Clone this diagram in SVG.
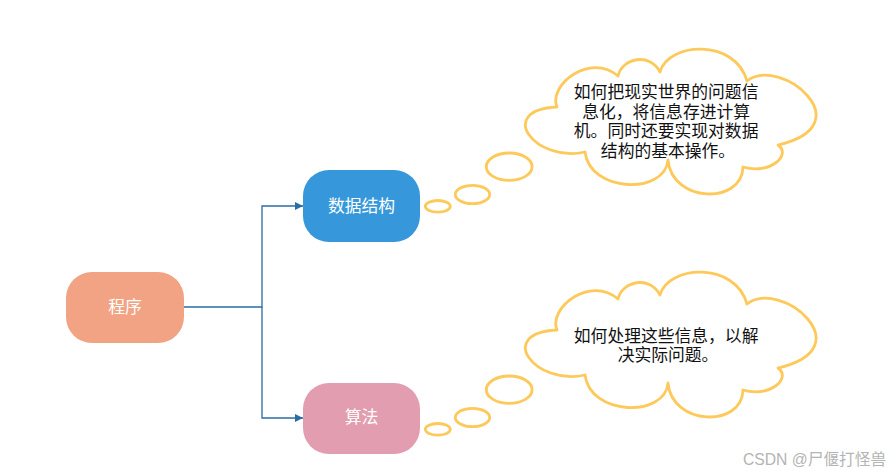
<svg xmlns="http://www.w3.org/2000/svg" width="894" height="471" viewBox="0 0 894 471">
  <style>
    .node-text { font-family: "Noto Sans CJK SC", "Liberation Sans", sans-serif; font-size: 16.8px; fill: #ffffff; text-anchor: middle; }
    .cloud-text { font-family: "Noto Sans CJK SC", "Liberation Sans", sans-serif; font-size: 16.8px; fill: #111111; text-anchor: middle; }
    .cloud { fill: #ffffff; stroke: #fdc95a; stroke-width: 2.8; stroke-linejoin: round; }
    .bubble { fill: #ffffff; stroke: #fdc95a; stroke-width: 2.8; }
    .conn { fill: none; stroke: #2a6ca4; stroke-width: 1.3; }
    .wm { font-family: "Liberation Sans", "Noto Sans CJK SC", sans-serif; font-size: 15.7px; fill: #b4b4b4; }
  </style>
  <defs>
    <marker id="arr" markerWidth="8" markerHeight="8" refX="8" refY="4" orient="auto" markerUnits="userSpaceOnUse">
      <path d="M0,0 L8,4 L0,8 Z" fill="#2a6ca4"/>
    </marker>
    <path id="cloudShape" d="M557,107 C548,85 590,52 618,76 C622,58 650,52 660,72 C668,42 735,38 747,81 C780,55 865,125 778,145 C792,155 770,175 743,167 C742,205 672,203 668,160 C665,195 590,193 585,152 C535,163 495,110 557,107 Z"/>
  </defs>

  <rect width="894" height="471" fill="#ffffff"/>

  <g id="connectors">
    <path class="conn" d="M184,307 H262 V206 H303" marker-end="url(#arr)"/>
    <path class="conn" d="M262,307 V418 H303" marker-end="url(#arr)"/>
  </g>

  <g id="node-program">
    <rect x="66" y="272" width="118" height="71" rx="26" fill="#f1a384"/>
    <text class="node-text" x="125" y="313">程序</text>
  </g>

  <g id="node-datastructure">
    <rect x="303" y="170" width="117" height="72" rx="26" fill="#3698db"/>
    <text class="node-text" x="361.5" y="211.5">数据结构</text>
  </g>

  <g id="node-algorithm">
    <rect x="303" y="383" width="117" height="71" rx="26" fill="#e29db0"/>
    <text class="node-text" x="361.5" y="423">算法</text>
  </g>

  <g id="thought-datastructure">
    <ellipse class="bubble" cx="437.8" cy="206.3" rx="12.5" ry="5.8"/>
    <ellipse class="bubble" cx="472.5" cy="194.5" rx="17.2" ry="9.2"/>
    <ellipse class="bubble" cx="509.2" cy="166.7" rx="22.9" ry="13.7"/>
    <use href="#cloudShape" class="cloud"/>
    <text class="cloud-text">
      <tspan x="668" y="98">如何把现实世界的问题信</tspan>
      <tspan x="668" y="117.7">息化，将信息存进计算</tspan>
      <tspan x="668" y="137.4">机。同时还要实现对数据</tspan>
      <tspan x="668" y="157">结构的基本操作。</tspan>
    </text>
  </g>

  <g id="thought-algorithm">
    <g transform="translate(0,223)">
      <ellipse class="bubble" cx="437.8" cy="206.3" rx="12.5" ry="5.8"/>
      <ellipse class="bubble" cx="472.5" cy="194.5" rx="17.2" ry="9.2"/>
      <ellipse class="bubble" cx="509.2" cy="166.7" rx="22.9" ry="13.7"/>
      <use href="#cloudShape" class="cloud"/>
    </g>
    <text class="cloud-text">
      <tspan x="668" y="341.5">如何处理这些信息，以解</tspan>
      <tspan x="668" y="360.5">决实际问题。</tspan>
    </text>
  </g>

  <text class="wm" x="743" y="465">CSDN @尸偃打怪兽</text>
</svg>
